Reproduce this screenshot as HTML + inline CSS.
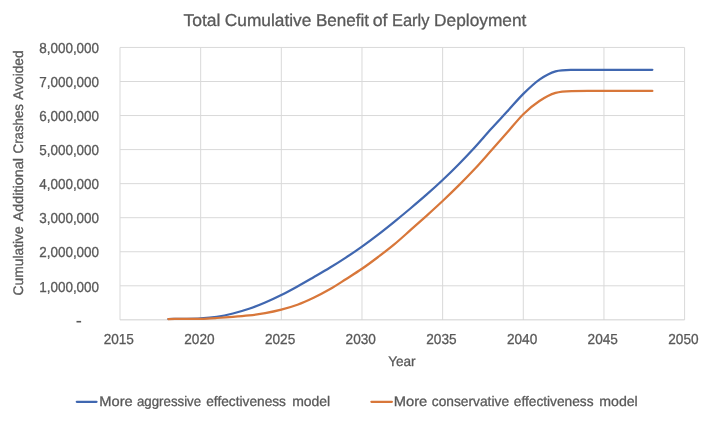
<!DOCTYPE html>
<html><head><meta charset="utf-8"><title>Total Cumulative Benefit of Early Deployment</title>
<style>
html,body{margin:0;padding:0;background:#fff;}
body{width:712px;height:421px;overflow:hidden;}
svg{display:block;filter:grayscale(0);}
text{font-family:"Liberation Sans",sans-serif;fill:#595959;stroke:#595959;stroke-width:0.3px;text-rendering:geometricPrecision;}
.g line{stroke:#d9d9d9;stroke-width:1;}
.ax line{stroke:#d0d0d0;stroke-width:1;}
.num text{font-size:14.5px;}
.lbl text{font-size:13.9px;}
.ttl text{font-size:17.2px;}
</style></head><body>
<svg width="712" height="421" viewBox="0 0 712 421">
<rect width="712" height="421" fill="#fff"/>
<g class="ttl">
<text x="183.50" y="26.20" textLength="37.00" lengthAdjust="spacingAndGlyphs">Total</text>
<text x="224.80" y="26.20" textLength="86.50" lengthAdjust="spacingAndGlyphs">Cumulative</text>
<text x="315.90" y="26.20" textLength="53.10" lengthAdjust="spacingAndGlyphs">Benefit</text>
<text x="372.70" y="26.20" textLength="14.80" lengthAdjust="spacingAndGlyphs">of</text>
<text x="391.90" y="26.20" textLength="37.60" lengthAdjust="spacingAndGlyphs">Early</text>
<text x="434.10" y="26.20" textLength="92.30" lengthAdjust="spacingAndGlyphs">Deployment</text>
</g>
<g class="g">
<line x1="120.00" y1="47.45" x2="684.60" y2="47.45"/>
<line x1="120.00" y1="81.50" x2="684.60" y2="81.50"/>
<line x1="120.00" y1="115.55" x2="684.60" y2="115.55"/>
<line x1="120.00" y1="149.60" x2="684.60" y2="149.60"/>
<line x1="120.00" y1="183.65" x2="684.60" y2="183.65"/>
<line x1="120.00" y1="217.70" x2="684.60" y2="217.70"/>
<line x1="120.00" y1="251.75" x2="684.60" y2="251.75"/>
<line x1="120.00" y1="285.80" x2="684.60" y2="285.80"/>
<line x1="120.00" y1="47.45" x2="120.00" y2="319.85"/>
<line x1="200.66" y1="47.45" x2="200.66" y2="319.85"/>
<line x1="281.31" y1="47.45" x2="281.31" y2="319.85"/>
<line x1="361.97" y1="47.45" x2="361.97" y2="319.85"/>
<line x1="442.63" y1="47.45" x2="442.63" y2="319.85"/>
<line x1="523.29" y1="47.45" x2="523.29" y2="319.85"/>
<line x1="603.94" y1="47.45" x2="603.94" y2="319.85"/>
<line x1="684.60" y1="47.45" x2="684.60" y2="319.85"/>
</g>
<g class="ax"><line x1="120.00" y1="319.85" x2="684.60" y2="319.85"/></g>
<g class="num">
<text x="39.2" y="291.50" textLength="59.9" lengthAdjust="spacingAndGlyphs">1,000,000</text>
<text x="39.2" y="257.45" textLength="59.9" lengthAdjust="spacingAndGlyphs">2,000,000</text>
<text x="39.2" y="223.40" textLength="59.9" lengthAdjust="spacingAndGlyphs">3,000,000</text>
<text x="39.2" y="189.35" textLength="59.9" lengthAdjust="spacingAndGlyphs">4,000,000</text>
<text x="39.2" y="155.30" textLength="59.9" lengthAdjust="spacingAndGlyphs">5,000,000</text>
<text x="39.2" y="121.25" textLength="59.9" lengthAdjust="spacingAndGlyphs">6,000,000</text>
<text x="39.2" y="87.20" textLength="59.9" lengthAdjust="spacingAndGlyphs">7,000,000</text>
<text x="39.2" y="53.15" textLength="59.9" lengthAdjust="spacingAndGlyphs">8,000,000</text>
<text x="103.65" y="343.9" textLength="30.3" lengthAdjust="spacingAndGlyphs">2015</text>
<text x="184.31" y="343.9" textLength="30.3" lengthAdjust="spacingAndGlyphs">2020</text>
<text x="264.96" y="343.9" textLength="30.3" lengthAdjust="spacingAndGlyphs">2025</text>
<text x="345.62" y="343.9" textLength="30.3" lengthAdjust="spacingAndGlyphs">2030</text>
<text x="426.28" y="343.9" textLength="30.3" lengthAdjust="spacingAndGlyphs">2035</text>
<text x="506.94" y="343.9" textLength="30.3" lengthAdjust="spacingAndGlyphs">2040</text>
<text x="587.59" y="343.9" textLength="30.3" lengthAdjust="spacingAndGlyphs">2045</text>
<text x="668.25" y="343.9" textLength="30.3" lengthAdjust="spacingAndGlyphs">2050</text>
</g>
<rect x="76.5" y="320.9" width="4.6" height="1.6" fill="#595959"/>
<g class="lbl">
<text x="388.15" y="366.40" textLength="27.50" lengthAdjust="spacingAndGlyphs">Year</text>
<text transform="translate(23.15,295.45) rotate(-90)" textLength="69.10" lengthAdjust="spacingAndGlyphs">Cumulative</text>
<text transform="translate(23.15,221.35) rotate(-90)" textLength="63.30" lengthAdjust="spacingAndGlyphs">Additional</text>
<text transform="translate(23.15,153.45) rotate(-90)" textLength="49.40" lengthAdjust="spacingAndGlyphs">Crashes</text>
<text transform="translate(23.15,99.65) rotate(-90)" textLength="49.20" lengthAdjust="spacingAndGlyphs">Avoided</text>
<text x="99.35" y="406.00" textLength="33.40" lengthAdjust="spacingAndGlyphs">More</text>
<text x="136.95" y="406.00" textLength="64.20" lengthAdjust="spacingAndGlyphs">aggressive</text>
<text x="206.25" y="406.00" textLength="79.70" lengthAdjust="spacingAndGlyphs">effectiveness</text>
<text x="292.15" y="406.00" textLength="38.10" lengthAdjust="spacingAndGlyphs">model</text>
<text x="393.75" y="406.00" textLength="33.50" lengthAdjust="spacingAndGlyphs">More</text>
<text x="431.75" y="406.00" textLength="77.30" lengthAdjust="spacingAndGlyphs">conservative</text>
<text x="513.75" y="406.00" textLength="79.80" lengthAdjust="spacingAndGlyphs">effectiveness</text>
<text x="599.25" y="406.00" textLength="38.50" lengthAdjust="spacingAndGlyphs">model</text>
</g>
<g fill="none" stroke-width="2.25" stroke-linecap="round" stroke-linejoin="round">
<path stroke="#4067b0" d="M168.39 319.00C173.77 318.97 179.15 319.00 184.53 318.90C189.90 318.80 195.28 318.75 200.66 318.40C206.03 318.05 211.41 317.62 216.79 316.80C222.17 315.98 227.54 314.83 232.92 313.50C238.30 312.17 243.67 310.63 249.05 308.80C254.43 306.97 259.81 304.80 265.18 302.50C270.56 300.20 275.94 297.68 281.31 295.00C286.69 292.32 292.07 289.37 297.45 286.40C302.82 283.43 308.20 280.30 313.58 277.20C318.95 274.10 324.33 271.07 329.71 267.80C335.09 264.53 340.46 261.13 345.84 257.60C351.22 254.07 356.59 250.43 361.97 246.60C367.35 242.77 372.73 238.73 378.10 234.60C383.48 230.47 388.86 226.15 394.23 221.80C399.61 217.45 404.99 213.02 410.37 208.50C415.74 203.98 421.12 199.45 426.50 194.70C431.87 189.95 437.25 185.08 442.63 180.00C448.01 174.92 453.38 169.67 458.76 164.20C464.14 158.73 469.51 153.07 474.89 147.20C480.27 141.33 485.65 134.93 491.02 129.00C496.40 123.07 501.78 117.45 507.15 111.60C512.53 105.75 517.91 99.23 523.29 93.90C528.66 88.57 534.04 83.37 539.42 79.60C544.79 75.83 550.17 72.80 555.55 71.30C560.93 69.80 566.30 69.85 571.68 69.80C577.06 69.75 582.43 69.75 587.81 69.75C593.19 69.75 598.57 69.75 603.94 69.75C609.32 69.75 614.70 69.75 620.07 69.75C625.45 69.75 630.83 69.75 636.21 69.75C641.58 69.75 646.96 69.75 652.34 69.75"/>
<path stroke="#d8773a" d="M168.39 319.00C173.77 318.98 179.15 318.98 184.53 318.95C189.90 318.92 195.28 318.95 200.66 318.80C206.03 318.65 211.41 318.32 216.79 318.00C222.17 317.68 227.54 317.33 232.92 316.90C238.30 316.47 243.67 316.02 249.05 315.40C254.43 314.78 259.81 314.15 265.18 313.20C270.56 312.25 275.94 311.10 281.31 309.70C286.69 308.30 292.07 306.78 297.45 304.80C302.82 302.82 308.20 300.38 313.58 297.80C318.95 295.22 324.33 292.40 329.71 289.30C335.09 286.20 340.46 282.62 345.84 279.20C351.22 275.78 356.59 272.50 361.97 268.80C367.35 265.10 372.73 261.07 378.10 257.00C383.48 252.93 388.86 248.87 394.23 244.40C399.61 239.93 404.99 234.97 410.37 230.20C415.74 225.43 421.12 220.67 426.50 215.80C431.87 210.93 437.25 206.07 442.63 201.00C448.01 195.93 453.38 190.77 458.76 185.40C464.14 180.03 469.51 174.57 474.89 168.80C480.27 163.03 485.65 156.83 491.02 150.80C496.40 144.77 501.78 138.70 507.15 132.60C512.53 126.50 517.91 119.47 523.29 114.20C528.66 108.93 534.04 104.55 539.42 101.00C544.79 97.45 550.17 94.56 555.55 92.90C560.93 91.24 566.30 91.15 571.68 91.05C577.06 90.95 582.43 90.95 587.81 90.95C593.19 90.95 598.57 90.95 603.94 90.95C609.32 90.95 614.70 90.95 620.07 90.95C625.45 90.95 630.83 90.95 636.21 90.95C641.58 90.95 646.96 90.95 652.34 90.95"/>
<line x1="76.8" y1="401.85" x2="96.5" y2="401.85" stroke="#4067b0"/>
<line x1="371.4" y1="401.85" x2="391.9" y2="401.85" stroke="#d8773a"/>
</g>
</svg>
</body></html>
